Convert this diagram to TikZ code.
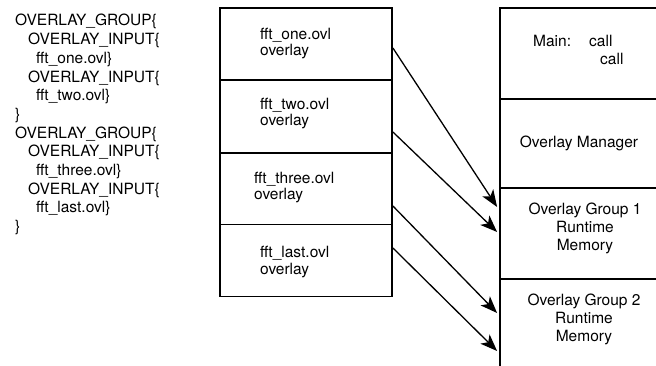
\documentclass[tikz,border=0pt]{standalone}
\usepackage{fontspec}
\setmainfont{TeX Gyre Heros}
\usetikzlibrary{arrows.meta}
\begin{document}
\begin{tikzpicture}[x=1pt,y=-1pt,
  txt/.style={font=\fontsize{15.5}{18}\selectfont, inner sep=0pt, anchor=base west},
  txtc/.style={txt, anchor=base},
  box/.style={draw, line width=1.8pt, rectangle, inner sep=0pt},
  arr/.style={line width=1.3pt, -{Stealth[length=17pt,width=13pt,inset=4.5pt]}}]
\useasboundingbox (0,0) rectangle (656,366);
\clip (0,0) rectangle (656,366);
% code listing
\node[txt] (c1)  at (15,26)    {OVERLAY\_GROUP\{};
\node[txt] (c2)  at (28,44.7)  {OVERLAY\_INPUT\{};
\node[txt] (c3)  at (36,63.4)  {fft\_one.ovl\}};
\node[txt] (c4)  at (28,82.1)  {OVERLAY\_INPUT\{};
\node[txt] (c5)  at (36,100.8) {fft\_two.ovl\}};
\node[txt] (c6)  at (15,119.5) {\}};
\node[txt] (c7)  at (15,138.2) {OVERLAY\_GROUP\{};
\node[txt] (c8)  at (28,156.9) {OVERLAY\_INPUT\{};
\node[txt] (c9)  at (36,175.6) {fft\_three.ovl\}};
\node[txt] (c10) at (28,194.3) {OVERLAY\_INPUT\{};
\node[txt] (c11) at (36,213)   {fft\_last.ovl\}};
\node[txt] (c12) at (15,231.7) {\}};
% left stack
\node[box, minimum width=172pt, minimum height=72pt]   (L1) at (306,44) {};
\node[box, minimum width=172pt, minimum height=73pt]   (L2) at (306,116.5) {};
\node[box, minimum width=172pt, minimum height=71.5pt] (L3) at (306,188.75) {};
\node[box, minimum width=172pt, minimum height=72pt]   (L4) at (306,260.5) {};
\node[txt] (l1a) at (260,40)  {fft\_one.ovl};
\node[txt] (l1b) at (260,56)  {overlay};
\node[txt] (l2a) at (260,110) {fft\_two.ovl};
\node[txt] (l2b) at (260,126) {overlay};
\node[txt] (l3a) at (254,184) {fft\_three.ovl};
\node[txt] (l3b) at (254,200) {overlay};
\node[txt] (l4a) at (260,258) {fft\_last.ovl};
\node[txt] (l4b) at (260,274) {overlay};
% right stack
\node[box, minimum width=180pt, minimum height=91pt]  (R1) at (590,53.5) {};
\node[box, minimum width=180pt, minimum height=89pt]  (R2) at (590,143.5) {};
\node[box, minimum width=180pt, minimum height=91pt]  (R3) at (590,233.5) {};
\node[box, minimum width=180pt, minimum height=101pt] (R4) at (590,329.5) {};
\node[txt] (m1) at (533,47) {Main:};
\node[txt] (m2) at (589,47) {call};
\node[txt] (m3) at (600,65) {call};
\node[txtc] (om) at (579,148) {Overlay Manager};
\node[txtc] (g1a) at (585,215) {Overlay Group 1};
\node[txtc] (g1b) at (585,233) {Runtime};
\node[txtc] (g1c) at (585,251) {Memory};
\node[txtc] (g2a) at (584,305) {Overlay Group 2};
\node[txtc] (g2b) at (584,323) {Runtime};
\node[txtc] (g2c) at (584,341) {Memory};
% arrows
\draw[arr] ([yshift=-4pt]L1.east)     -- ([xshift=-2pt,yshift=26.5pt]R3.west);
\draw[arr] ([yshift=-15.5pt]L2.east)  -- ([xshift=-2pt,yshift=1.5pt]R3.west);
\draw[arr] ([yshift=-17.25pt]L3.east) -- ([xshift=-2pt,yshift=16.5pt]R4.west);
\draw[arr] ([yshift=12.5pt]L4.east)   -- ([xshift=-2pt,yshift=-21.5pt]R4.west);
\end{tikzpicture}
\end{document}
